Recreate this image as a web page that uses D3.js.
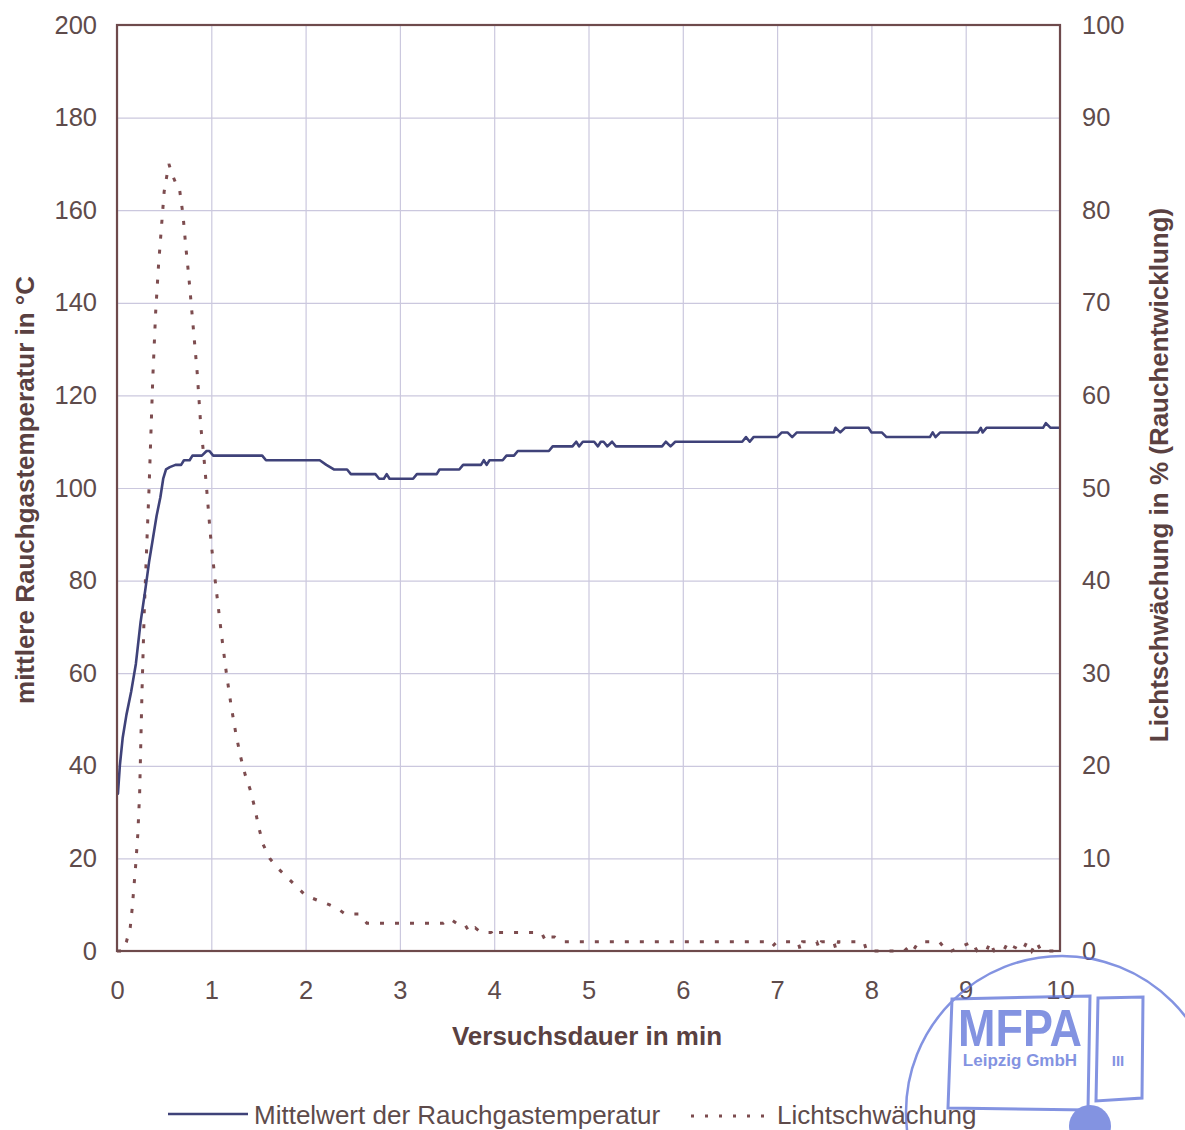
<!DOCTYPE html>
<html>
<head>
  <style>
    body { margin: 0; background: #fff; }
    svg { display: block; font-family: "Liberation Sans", Arial, sans-serif; }
    .tick text { fill: #5e4b4b; font-size: 25.5px; }
    .grid line { stroke: #cbc8de; stroke-width: 1.2; }
    .title { fill: #5a4141; font-size: 26px; font-weight: bold; }
    .legend { fill: #5e4b4b; font-size: 26px; }
  </style>
</head>
<body>
  <svg width="1185" height="1130"></svg>
  <script src="https://d3js.org/d3.v7.min.js"></script>
  <script>
    // axis ticks
    const xTicks = [0, 1, 2, 3, 4, 5, 6, 7, 8, 9, 10];
    const tempTicks = [0, 20, 40, 60, 80, 100, 120, 140, 160, 180, 200];
    const lightTicks = [0, 10, 20, 30, 40, 50, 60, 70, 80, 90, 100];

    // Mittelwert der Rauchgastemperatur (min, °C)
    const tempTime = [0, 0.01, 0.03, 0.06, 0.1, 0.15, 0.2, 0.25, 0.3, 0.34, 0.38, 0.42, 0.46, 0.49, 0.52,
      0.56, 0.62, 0.68, 0.71, 0.77, 0.8, 0.9, 0.95, 0.98, 1.02, 1.54, 1.58, 2.15, 2.22, 2.3, 2.44,
      2.48, 2.74, 2.78, 2.83, 2.86, 2.89, 3.14, 3.18, 3.39, 3.42, 3.63, 3.67, 3.86, 3.89, 3.92, 3.95,
      4.09, 4.13, 4.21, 4.25, 4.58, 4.62, 4.83, 4.87, 4.9, 4.94, 5.06, 5.1, 5.13, 5.16, 5.2, 5.25,
      5.29, 5.78, 5.82, 5.87, 5.92, 6.63, 6.67, 6.71, 6.75, 7.0, 7.05, 7.11, 7.16, 7.21, 7.6, 7.62,
      7.67, 7.72, 7.97, 8.0, 8.11, 8.16, 8.62, 8.65, 8.68, 8.73, 9.13, 9.16, 9.18, 9.22, 9.82, 9.85,
      9.9, 10.0];
    const tempValue = [34, 34, 40, 46, 51, 56, 62, 71, 78, 84, 89, 94, 98, 102, 104,
      104.5, 105, 105, 106, 106, 107, 107, 108, 108, 107, 107, 106, 106, 105, 104, 104,
      103, 103, 102, 102, 103, 102, 102, 103, 103, 104, 104, 105, 105, 106, 105, 106,
      106, 107, 107, 108, 108, 109, 109, 110, 109, 110, 110, 109, 110, 110, 109, 110,
      109, 109, 110, 109, 110, 110, 111, 110, 111, 111, 112, 112, 111, 112, 112, 113,
      112, 113, 113, 112, 112, 111, 111, 112, 111, 112, 112, 113, 112, 113, 113, 114,
      113, 113];

    // Lichtschwächung (min, %)
    const lightTime = [0, 0.06, 0.1, 0.14, 0.16, 0.18, 0.2, 0.22, 0.24, 0.265, 0.29, 0.32, 0.34, 0.36,
      0.38, 0.41, 0.44, 0.47, 0.5, 0.55, 0.58, 0.62, 0.66, 0.7, 0.73, 0.76, 0.79, 0.82, 0.85, 0.87,
      0.89, 0.92, 0.95, 0.99, 1.03, 1.07, 1.11, 1.16, 1.21, 1.26, 1.31, 1.36, 1.41, 1.46, 1.5, 1.55,
      1.62, 1.7, 1.8, 1.9, 2.0, 2.12, 2.25, 2.35, 2.42, 2.57, 2.65, 3.46, 3.53, 3.6, 3.68, 3.74,
      3.8, 3.86, 3.97, 4.0, 4.05, 4.5, 4.55, 4.6, 4.64, 4.7, 6.9, 6.95, 7.0, 7.22, 7.25, 7.27,
      7.42, 7.45, 7.47, 7.6, 7.63, 7.65, 7.92, 7.95, 8.35, 8.4, 8.44, 8.5, 8.72, 8.8, 8.85, 9.07,
      9.12, 9.22, 9.26, 9.3, 9.4, 9.45, 9.5, 9.6, 9.65, 9.7, 9.75, 9.8, 10];
    const lightValue = [0, 0, 1, 2.5, 4.5, 7, 9.5, 12.5, 17, 28, 37, 45, 50, 56,
      62, 69, 74, 78, 82, 85, 84, 83, 82.5, 79.5, 76, 73, 69.5, 66, 62.5, 59.5,
      56.5, 53.5, 50, 45, 41, 37.5, 34, 30, 26.5, 23.5, 21, 19, 17.5, 15.5, 13.5, 11.5,
      10, 9, 8, 7, 6, 5.5, 5, 4.5, 4, 4, 3, 3, 3.5, 3, 3, 2,
      2.5, 2, 2, 1.5, 2, 2, 1, 1.5, 1.5, 1, 1, 0.5, 1, 1, 0, 1,
      1, 0.2, 1, 1, 0, 1, 1, 0, 0, 0.5, 0, 1, 1, 0, 0, 1,
      0, 0, 1, 0, 0, 1, 0.5, 0, 1, 0, 1, 0, 0];

    const svg = d3.select("svg");
    const plot = {left: 117, right: 1060, top: 25, bottom: 951};

    const x = d3.scaleLinear().domain([0, 10]).range([plot.left, plot.right]);
    const yT = d3.scaleLinear().domain([0, 200]).range([plot.bottom, plot.top]);
    const yL = d3.scaleLinear().domain([0, 100]).range([plot.bottom, plot.top]);

    // grid lines
    svg.append("g")
      .attr("class", "grid")
      .attr("transform", "translate(0," + plot.bottom + ")")
      .call(d3.axisBottom(x).tickValues(xTicks).tickSize(-(plot.bottom - plot.top)).tickFormat(""))
      .select(".domain").remove();
    svg.append("g")
      .attr("class", "grid")
      .attr("transform", "translate(" + plot.left + ",0)")
      .call(d3.axisLeft(yT).tickValues(tempTicks).tickSize(-(plot.right - plot.left)).tickFormat(""))
      .select(".domain").remove();

    // tick labels
    const xa = svg.append("g")
      .attr("transform", "translate(0," + plot.bottom + ")")
      .call(d3.axisBottom(x).tickValues(xTicks).tickSize(0).tickPadding(30));
    const la = svg.append("g")
      .attr("transform", "translate(" + plot.left + ",0)")
      .call(d3.axisLeft(yT).tickValues(tempTicks).tickSize(0).tickPadding(20));
    const ra = svg.append("g")
      .attr("transform", "translate(" + plot.right + ",0)")
      .call(d3.axisRight(yL).tickValues(lightTicks).tickSize(0).tickPadding(22));
    [xa, la, ra].forEach(a => {
      a.select(".domain").remove();
      a.selectAll("text").attr("font-family", null).attr("font-size", null);
    });
    xa.selectAll("text").attr("dy", "0.32em").attr("y", 40);

    // Lichtschwächung (dotted)
    const lightLine = d3.line()
      .x((d, i) => x(lightTime[i]))
      .y(d => yL(d));
    svg.append("path")
      .attr("d", lightLine(lightValue))
      .attr("fill", "none")
      .attr("stroke", "#7d4c4f")
      .attr("stroke-width", 3)
      .attr("stroke-dasharray", "4,11");

    // temperature (solid)
    const tempLine = d3.line()
      .x((d, i) => x(tempTime[i]))
      .y(d => yT(d));
    svg.append("path")
      .attr("d", tempLine(tempValue))
      .attr("fill", "none")
      .attr("stroke", "#3f4279")
      .attr("stroke-width", 2.6)
      .attr("stroke-linejoin", "round");

    // frame
    svg.append("rect")
      .attr("x", plot.left).attr("y", plot.top)
      .attr("width", plot.right - plot.left).attr("height", plot.bottom - plot.top)
      .attr("fill", "none")
      .attr("stroke", "#6e4a4c")
      .attr("stroke-width", 2.2);

    // axis titles
    svg.append("text").attr("class", "title")
      .attr("x", 587).attr("y", 1045).attr("text-anchor", "middle")
      .text("Versuchsdauer in min");
    svg.append("text").attr("class", "title")
      .attr("transform", "translate(34,490) rotate(-90)").attr("text-anchor", "middle")
      .text("mittlere Rauchgastemperatur in °C");
    svg.append("text").attr("class", "title")
      .attr("transform", "translate(1168,475) rotate(-90)").attr("text-anchor", "middle")
      .text("Lichtschwächung in % (Rauchentwicklung)");

    // legend
    svg.append("line")
      .attr("x1", 168).attr("x2", 248).attr("y1", 1114).attr("y2", 1114)
      .attr("stroke", "#3f4279").attr("stroke-width", 2.6);
    svg.append("text").attr("class", "legend")
      .attr("x", 254).attr("y", 1124).text("Mittelwert der Rauchgastemperatur");
    svg.append("line")
      .attr("x1", 691).attr("x2", 772).attr("y1", 1116).attr("y2", 1116)
      .attr("stroke", "#7d4c4f").attr("stroke-width", 3).attr("stroke-dasharray", "3,11");
    svg.append("text").attr("class", "legend")
      .attr("x", 777).attr("y", 1124).text("Lichtschwächung");

    // stamp
    const stamp = svg.append("g")
      .attr("fill", "none")
      .attr("stroke", "#5a6fd8")
      .attr("opacity", 0.75);
    stamp.append("circle").attr("cx", 1062).attr("cy", 1112).attr("r", 156).attr("stroke-width", 2.5);
    stamp.append("path").attr("d", "M952,999 L1090,996 L1088,1110 L948,1108 Z").attr("stroke-width", 3);
    stamp.append("path").attr("d", "M1098,998 L1143,997 L1142,1098 L1096,1101 Z").attr("stroke-width", 3);
    stamp.append("circle").attr("cx", 1090).attr("cy", 1126).attr("r", 21)
      .attr("fill", "#5a6fd8").attr("stroke", "none");
    stamp.append("text").attr("x", 1020).attr("y", 1046).attr("text-anchor", "middle")
      .attr("fill", "#5a6fd8").attr("stroke", "none")
      .attr("font-size", 52).attr("font-weight", "bold").attr("textLength", 124)
      .attr("lengthAdjust", "spacingAndGlyphs").text("MFPA");
    stamp.append("text").attr("x", 1020).attr("y", 1066).attr("text-anchor", "middle")
      .attr("fill", "#5a6fd8").attr("stroke", "none")
      .attr("font-size", 17).attr("font-weight", "bold").text("Leipzig GmbH");
    stamp.append("text").attr("x", 1118).attr("y", 1066).attr("text-anchor", "middle")
      .attr("fill", "#5a6fd8").attr("stroke", "none")
      .attr("font-size", 15).attr("font-weight", "bold").text("III");
  </script>
</body>
</html>
